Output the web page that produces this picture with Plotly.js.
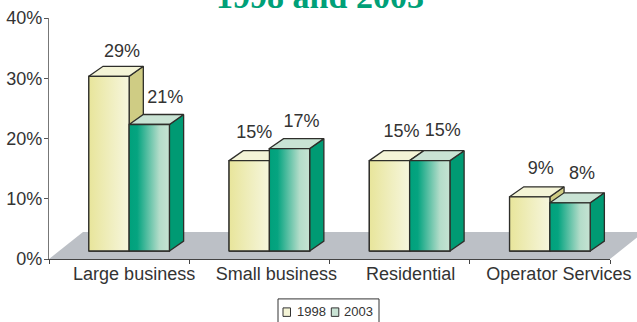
<!DOCTYPE html>
<html>
<head>
<meta charset="utf-8">
<script src="https://cdn.plot.ly/plotly-3.0.1.min.js"></script>
<style>html,body{margin:0;padding:0;background:#fff;overflow:hidden}#chart{width:637px;height:322px}</style>
</head>
<body>
<div id="chart"></div>
<script>
// Data
const categories = ['Large business', 'Small business', 'Residential', 'Operator Services'];
const seriesNames = ['1998', '2003'];
const values1998 = [29, 15, 15, 9];
const values2003 = [21, 17, 15, 8];
const labels1998 = ['29%', '15%', '15%', '9%'];
const labels2003 = ['21%', '17%', '15%', '8%'];
const yTicks = [0, 10, 20, 30, 40];
const yTickLabels = ['0%', '10%', '20%', '30%', '40%'];

// Style / layout constants
const W = 637, H = 322, mL = 49, mR = 27, mT = 17.5, mB = 63;
const plotW = W - mL - mR, plotH = H - mT - mB;
const xUnit = plotW / 4, yUnit = plotH / 40;          // px per axis unit
const barBase = 8 / yUnit;                            // bars stand 8px above the axis on the floor
const barW = 40.3 / xUnit, groupShift = 10 / xUnit;
const depthX = 14.2 / xUnit, depthY = 10 / yUnit;
const tickShift = [15, 17, 11, 19].map(p => p / xUnit);
const labelNudgeX1998 = [13, 5, 12, 11].map(p => p / xUnit);
const labelNudgeX2003 = [16, 12, 13, 12].map(p => p / xUnit);
const labelNudgeY1998 = [24, 27, 28, 27].map(p => p / yUnit);
const labelNudgeY2003 = [26, 26, 29, 28].map(p => p / yUnit);
const edge = '#2e2e2a', textCol = '#333333';
const styles = [
  {grad: [[0, '#e8e59b'], [1, '#f6f6dd']], top: '#f4f4d6', side: '#cfcc84', flat: '#eeeebb', key: '#f4f4d6'},
  {grad: [[0, '#00a17c'], [0.2, '#05a480'], [0.75, '#b3dcc9'], [1, '#c6e3d3']], top: '#c9e3d4', side: '#009a73', flat: '#66bfa5', key: '#c9e3d4'}
];

const px = x => (x - mL) / plotW;
const py = y => (H - mB - y) / plotH;

function poly(xs, ys, fill, grad) {
  const t = {type: 'scatter', mode: 'lines', x: xs, y: ys, fill: 'toself', cliponaxis: false,
    line: {color: edge, width: 1.3}, hoverinfo: 'skip', showlegend: false};
  if (grad) t.fillgradient = {type: 'horizontal', colorscale: grad};
  else t.fillcolor = fill;
  return t;
}

const allValues = [values1998, values2003];
const traces = [];

// real bars (front faces)
allValues.forEach((vals, s) => {
  traces.push({type: 'bar', name: seriesNames[s], x: categories.map((_, i) => i), y: vals,
    base: barBase, width: barW, offset: s === 0 ? groupShift - barW : groupShift,
    marker: {color: styles[s].flat, line: {color: edge, width: 1.3}}, showlegend: false});
});

// 3-D faces, back to front
categories.forEach((_, i) => {
  allValues.forEach((vals, s) => {
    const l = i + groupShift + (s === 0 ? -barW : 0), r = l + barW;
    const b = barBase, t = barBase + vals[i];
    traces.push(poly([r, r + depthX, r + depthX, r, r], [b, b + depthY, t + depthY, t, b], styles[s].side));
    traces.push(poly([l, l + depthX, r + depthX, r, l], [t, t + depthY, t + depthY, t, t], styles[s].top));
    traces.push(poly([l, r, r, l, l], [b, b, t, t, b], null, styles[s].grad));
  });
});

// data labels
[[values1998, labels1998, labelNudgeX1998, labelNudgeY1998, 0], [values2003, labels2003, labelNudgeX2003, labelNudgeY2003, 1]].forEach(([vals, labs, nx, ny, s]) => {
  traces.push({type: 'scatter', mode: 'text', cliponaxis: false, hoverinfo: 'skip', showlegend: false,
    x: vals.map((_, i) => i + groupShift + (s === 0 ? -barW / 2 : barW / 2) + nx[i]),
    y: vals.map((v, i) => barBase + v + ny[i]),
    text: labs, textposition: 'middle center',
    textfont: {family: 'Liberation Sans', size: 18, color: textCol}});
});

const legendBox = {x0: 278, x1: 379, y0: 299, y1: 330};
const legendKeys = [283, 331.3];
const legendTexts = [296, 343];

const layout = {
  width: W, height: H,
  margin: {l: mL, r: mR, t: mT, b: mB, pad: 0},
  paper_bgcolor: '#fff', plot_bgcolor: 'rgba(0,0,0,0)',
  showlegend: false,
  title: {text: '<b>1998 and 2003</b>', x: 320 / W, xanchor: 'center', y: 1 - 8 / H, yanchor: 'bottom', yref: 'container',
    font: {family: 'Liberation Serif', size: 34, color: '#00a078'}},
  xaxis: {type: 'linear', range: [-0.5, 3.5], showgrid: false, zeroline: false,
    tickmode: 'array', tickvals: categories.map((_, i) => i + tickShift[i]), ticktext: categories,
    ticks: '', showline: true, linecolor: '#444', linewidth: 1.2, ticklabelstandoff: -2,
    tickfont: {family: 'Liberation Sans', size: 18, color: textCol},
    minor: {tickmode: 'array', tickvals: [-0.5, 0.5, 1.5, 2.5, 3.5], ticks: 'outside', ticklen: 4, tickcolor: '#444', tickwidth: 1, showgrid: false}},
  yaxis: {range: [0, 40], showgrid: false, zeroline: false,
    tickmode: 'array', tickvals: yTicks, ticktext: yTickLabels,
    ticks: 'outside', ticklen: 4, tickcolor: '#555', tickwidth: 1, ticklabelstandoff: -2,
    showline: true, linecolor: '#777', linewidth: 1.2,
    tickfont: {family: 'Liberation Sans', size: 18, color: textCol}},
  shapes: [
    // floor of the 3-D box, reaching past the plot's right edge
    {type: 'path', xref: 'paper', yref: 'paper', layer: 'below',
      path: 'M' + px(49) + ',' + py(259) + ' L' + px(83) + ',' + py(232) + ' L' + px(644) + ',' + py(232) + ' L' + px(610) + ',' + py(259) + ' Z',
      fillcolor: '#bcc0c6', line: {width: 0}},
    {type: 'rect', xref: 'paper', yref: 'paper', x0: px(legendBox.x0), x1: px(legendBox.x1), y0: py(legendBox.y0), y1: py(legendBox.y1),
      line: {color: '#333', width: 1}, fillcolor: '#fff'}
  ].concat(legendKeys.map((k, s) => ({type: 'rect', xref: 'paper', yref: 'paper', x0: px(k), x1: px(k + 7.5), y0: py(308), y1: py(316.5),
      line: {color: '#333', width: 1}, fillcolor: styles[s].key}))),
  annotations: seriesNames.map((n, s) => ({text: n, showarrow: false, xref: 'paper', yref: 'paper', x: px(legendTexts[s]), xanchor: 'left',
      y: py(312), yanchor: 'middle', xshift: -1, font: {family: 'Liberation Sans', size: 13, color: textCol}}))
};

Plotly.newPlot('chart', traces, layout, {displayModeBar: false, responsive: false});
</script>
</body>
</html>
